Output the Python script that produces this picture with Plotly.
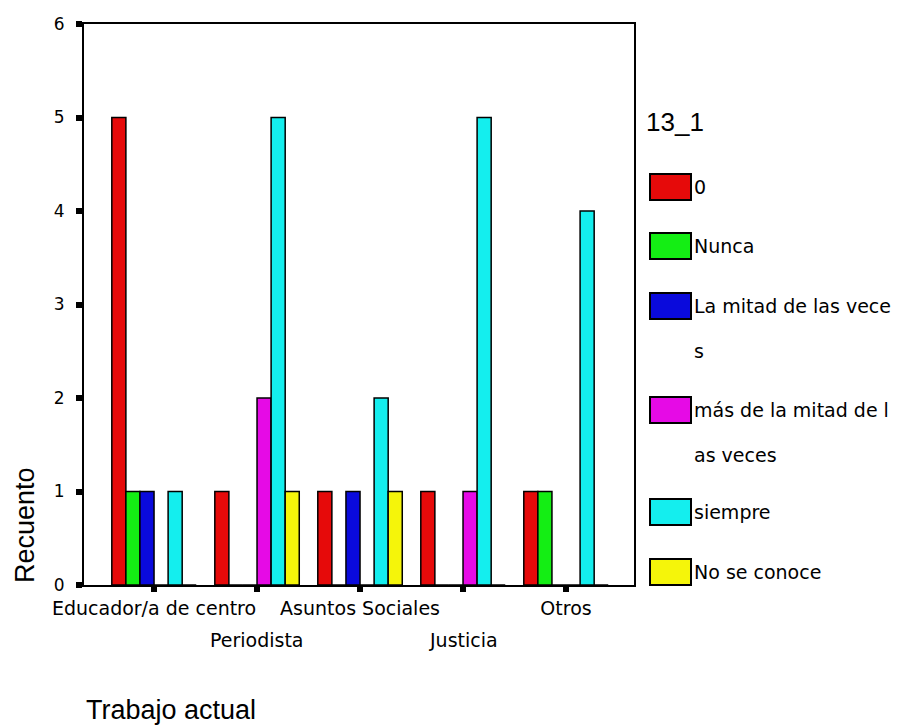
import plotly.graph_objects as go

# categories (x axis) and the six answer series
categories = ["Educador/a de centro", "Periodista", "Asuntos Sociales", "Justicia", "Otros"]
series_names = ["0", "Nunca", "La mitad de las veces", "más de la mitad de las veces",
                "siempre", "No se conoce"]
# legend labels as wrapped in the original picture (first line, continuation)
legend_first = ["0", "Nunca", "La mitad de las vece", "más de la mitad de l",
                "siempre", "No se conoce"]
legend_cont = ["", "", "s", "as veces", "", ""]
series_colors = ["#E60A0A", "#14EE14", "#0A0ADC", "#E60AE6", "#14EEEE", "#F5F50A"]

v_cero = [5, 1, 1, 1, 1]
v_nunca = [1, 0, 0, 0, 1]
v_mitad = [1, 0, 1, 0, 0]
v_mas_mitad = [0, 2, 0, 1, 0]
v_siempre = [1, 5, 2, 5, 4]
v_no_se = [0, 1, 1, 0, 0]
values = [v_cero, v_nunca, v_mitad, v_mas_mitad, v_siempre, v_no_se]

y_ticks = [0, 1, 2, 3, 4, 5, 6]
top_row = ["Educador/a de centro", "", "Asuntos Sociales", "", "Otros"]
bottom_row = ["Periodista", "Justicia"]

# plot-area geometry in pixels (for the hand-drawn legend)
L, R, T, B = 84, 634, 24, 585


def px(x):
    return (x - L) / (R - L)


def py(y):
    return (B - y) / (B - T)


fig = go.Figure()
for name, vals, col in zip(series_names, values, series_colors):
    fig.add_trace(go.Bar(
        x=categories, y=vals, name=name,
        marker=dict(color=col, line=dict(color="black", width=1.5)),
        showlegend=False,
    ))

font_ticks = dict(family="DejaVu Sans", size=19, color="black")
font_leg = dict(family="DejaVu Sans", size=19, color="black")

annotations = []
shapes = []
for lab in bottom_row:
    annotations.append(dict(x=lab, xref="x", y=0, yref="paper", yshift=-55,
                            text=lab, showarrow=False, font=font_ticks,
                            xanchor="center", yanchor="middle"))

# manual legend
annotations.append(dict(x=px(644), y=py(122), xref="paper", yref="paper", text="13_1",
                        showarrow=False, xanchor="left", yanchor="middle",
                        font=dict(family="Liberation Sans", size=26, color="black")))
row_y = [187, 246, 306, 410, 512, 572]
for lab, cont, col, yc in zip(legend_first, legend_cont, series_colors, row_y):
    shapes.append(dict(type="rect", xref="paper", yref="paper",
                       x0=px(650), x1=px(691), y0=py(yc + 13), y1=py(yc - 13),
                       fillcolor=col, line=dict(color="black", width=2)))
    annotations.append(dict(x=px(692), y=py(yc), xref="paper", yref="paper",
                            text=lab, showarrow=False, xanchor="left", yanchor="middle",
                            font=font_leg))
    if cont:
        annotations.append(dict(x=px(692), y=py(yc + 45), xref="paper", yref="paper",
                                text=cont, showarrow=False, xanchor="left",
                                yanchor="middle", font=font_leg))

# axis titles
annotations.append(dict(x=px(84), y=py(710), xref="paper", yref="paper",
                        text="Trabajo actual", showarrow=False,
                        xanchor="left", yanchor="middle",
                        font=dict(family="Liberation Sans", size=27, color="black")))
annotations.append(dict(x=px(25), y=0, xref="paper", yref="paper",
                        text="Recuento", showarrow=False, textangle=-90,
                        xanchor="center", yanchor="bottom",
                        font=dict(family="Liberation Sans", size=27, color="black")))

fig.update_layout(
    width=911, height=725,
    margin=dict(l=L, r=911 - R, t=T, b=725 - B),
    paper_bgcolor="white", plot_bgcolor="white",
    barmode="group", bargap=0.18, bargroupgap=0,
    showlegend=False,
    annotations=annotations, shapes=shapes,
    xaxis=dict(
        type="category", range=[-0.68, 4.66],
        tickmode="array", tickvals=categories, ticktext=top_row,
        showline=True, linecolor="black", linewidth=2, mirror=True,
        ticks="outside", ticklen=5, tickwidth=6, tickcolor="black",
        tickfont=font_ticks, showgrid=False, zeroline=False,
    ),
    yaxis=dict(
        range=[0, 6], tickvals=y_ticks,
        showline=True, linecolor="black", linewidth=2, mirror=True,
        ticks="outside", ticklen=6, tickwidth=6, tickcolor="black",
        ticklabelstandoff=8,
        tickfont=dict(family="DejaVu Sans", size=17, color="black"),
        showgrid=False, zeroline=False,
    ),
)

# the page body has a default 8px margin; drop it so the figure fills the window
fig.write_html("out.html", config={"displayModeBar": False},
               post_script="document.body.style.margin='0';document.body.style.overflow='hidden';")
